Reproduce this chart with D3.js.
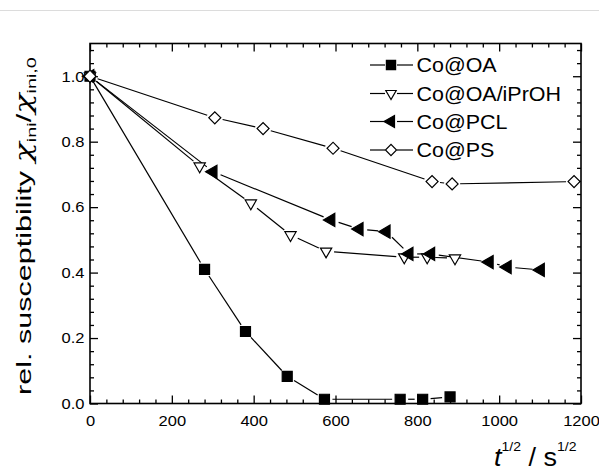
<!DOCTYPE html>
<html>
<head>
<meta charset="utf-8">
<script src="https://cdn.jsdelivr.net/npm/d3@7"></script>
<style>
  html, body { margin: 0; padding: 0; background: #fff; }
  svg { display: block; font-family: "Liberation Sans", Arial, sans-serif; }
</style>
</head>
<body>
<svg id="chart" width="599" height="471"></svg>
<script>
// Decay of the relative initial susceptibility versus square root of time
const seriesNames = ["Co@OA", "Co@OA/iPrOH", "Co@PCL", "Co@PS"];

const oaX = [0, 280, 380, 482, 573, 758, 813, 880];
const oaY = [1.0, 0.41, 0.22, 0.083, 0.013, 0.013, 0.013, 0.02];

const iproX = [0, 268, 393, 490, 577, 768, 824, 892];
const iproY = [1.0, 0.725, 0.612, 0.515, 0.465, 0.447, 0.447, 0.444];

const pclX = [0, 301, 589, 658, 724, 780, 833, 976, 1020, 1101];
const pclY = [1.0, 0.708, 0.561, 0.533, 0.525, 0.457, 0.457, 0.432, 0.417, 0.408];

const psX = [0, 305, 423, 594, 836, 885, 1183];
const psY = [1.0, 0.873, 0.840, 0.780, 0.678, 0.671, 0.678];

const xTicks = [0, 200, 400, 600, 800, 1000, 1200];
const yTicks = [0.0, 0.2, 0.4, 0.6, 0.8, 1.0];

const svg = d3.select("#chart");
const plotL = 90, plotR = 581, plotT = 43.5, plotB = 403.5;

const x = d3.scaleLinear().domain([0, 1200]).range([plotL, plotR]);
const y = d3.scaleLinear().domain([0, 1.1]).range([plotB, plotT]);

// thin rule at the very top
svg.append("line").attr("x1", 0).attr("x2", 599).attr("y1", 10.5).attr("y2", 10.5)
  .attr("stroke", "#dcdcdc").attr("stroke-width", 1);

const xMinor = d3.range(0, 1201, 40).filter(v => v % 200 !== 0);
const yMinor = d3.range(0, 28).map(i => +(i * 0.04).toFixed(2)).filter(v => Math.abs(v * 5 - Math.round(v * 5)) > 1e-6);

function styleAxis(g) {
  g.select(".domain").remove();
  g.selectAll("line").attr("stroke", "#000").attr("stroke-width", 1.3);
  g.selectAll("text").attr("fill", "#000");
}

// bottom axis with labels
const gB = svg.append("g").attr("transform", `translate(0,${plotB})`)
  .call(d3.axisBottom(x).tickValues(xTicks).tickFormat(d3.format("d")).tickSize(-8).tickPadding(12));
gB.selectAll("text").attr("font-size", 15).attr("transform", "scale(1.1,1)");
styleAxis(gB);
svg.append("g").attr("transform", `translate(0,${plotB})`)
  .call(d3.axisBottom(x).tickValues(xMinor).tickFormat("").tickSize(-4)).call(styleAxis);

// top axis, ticks only
svg.append("g").attr("transform", `translate(0,${plotT})`)
  .call(d3.axisTop(x).tickValues(xTicks).tickFormat("").tickSize(-8)).call(styleAxis);
svg.append("g").attr("transform", `translate(0,${plotT})`)
  .call(d3.axisTop(x).tickValues(xMinor).tickFormat("").tickSize(-4)).call(styleAxis);

// left axis with labels
const gL = svg.append("g").attr("transform", `translate(${plotL},0)`)
  .call(d3.axisLeft(y).tickValues(yTicks).tickFormat(d3.format(".1f")).tickSize(-8).tickPadding(5));
gL.selectAll("text").attr("font-size", 15).attr("transform", "scale(1.1,1)");
styleAxis(gL);
svg.append("g").attr("transform", `translate(${plotL},0)`)
  .call(d3.axisLeft(y).tickValues(yMinor).tickFormat("").tickSize(-4)).call(styleAxis);

// right axis, ticks only
svg.append("g").attr("transform", `translate(${plotR},0)`)
  .call(d3.axisRight(y).tickValues(yTicks).tickFormat("").tickSize(-8)).call(styleAxis);
svg.append("g").attr("transform", `translate(${plotR},0)`)
  .call(d3.axisRight(y).tickValues(yMinor).tickFormat("").tickSize(-4)).call(styleAxis);

// frame
svg.append("rect").attr("x", plotL).attr("y", plotT)
  .attr("width", plotR - plotL).attr("height", plotB - plotT)
  .attr("fill", "none").attr("stroke", "#000").attr("stroke-width", 1.6);

// marker shapes
const markers = [
  { type: d3.symbolSquare, size: 100, rot: 0, fill: "#000" },
  { type: d3.symbolTriangle, size: 55, rot: 180, fill: "#fff" },
  { type: d3.symbolTriangle, size: 75, rot: -90, fill: "#000" },
  { type: d3.symbolSquare, size: 72, rot: 45, fill: "#fff" }
];

const series = [
  { xs: oaX, ys: oaY },
  { xs: iproX, ys: iproY },
  { xs: pclX, ys: pclY },
  { xs: psX, ys: psY }
];

const gap = 8;
const lineLayer = svg.append("g");
const markLayer = svg.append("g");

series.forEach((s, i) => {
  const pts = s.xs.map((v, j) => [x(v), y(s.ys[j])]);
  // connecting segments, broken just short of each marker
  for (let j = 0; j < pts.length - 1; j++) {
    const [x0, y0] = pts[j], [x1, y1] = pts[j + 1];
    const len = Math.hypot(x1 - x0, y1 - y0);
    if (len <= 2 * gap + 1) continue;
    const ux = (x1 - x0) / len, uy = (y1 - y0) / len;
    lineLayer.append("line")
      .attr("x1", x0 + ux * gap).attr("y1", y0 + uy * gap)
      .attr("x2", x1 - ux * gap).attr("y2", y1 - uy * gap)
      .attr("stroke", "#000").attr("stroke-width", 1.2);
  }
  const m = markers[i];
  markLayer.selectAll(null).data(pts).join("path")
    .attr("d", d3.symbol().type(m.type).size(m.size))
    .attr("transform", d => `translate(${d[0]},${d[1]}) rotate(${m.rot})`)
    .attr("fill", m.fill).attr("stroke", "#000").attr("stroke-width", 1.2);
});

// legend
const legend = svg.append("g");
const legY = [65, 93.5, 121.5, 150];
seriesNames.forEach((name, i) => {
  const cy = legY[i];
  legend.append("line").attr("x1", 370).attr("x2", 385).attr("y1", cy).attr("y2", cy)
    .attr("stroke", "#000").attr("stroke-width", 1.2);
  legend.append("line").attr("x1", 397).attr("x2", 413).attr("y1", cy).attr("y2", cy)
    .attr("stroke", "#000").attr("stroke-width", 1.2);
  const m = markers[i];
  legend.append("path")
    .attr("d", d3.symbol().type(m.type).size(m.size * 0.85))
    .attr("transform", `translate(391,${cy}) rotate(${m.rot})`)
    .attr("fill", m.fill).attr("stroke", "#000").attr("stroke-width", 1.2);
  legend.append("text")
    .attr("transform", `translate(416.5,${cy + 7}) scale(1.1,1)`)
    .attr("font-size", 19.5).attr("fill", "#000").text(name);
});

// y axis title, stretched along its run to span the plot height
const ytG = svg.append("g");
const yt = ytG.append("text")
  .attr("text-anchor", "middle").attr("font-size", 20).attr("fill", "#000");
yt.append("tspan").text("rel. susceptibility ");
yt.append("tspan").attr("font-style", "italic").attr("font-family", "DejaVu Serif").attr("font-size", 22).text("χ");
yt.append("tspan").attr("font-size", 13).attr("dy", 5).text("ini");
yt.append("tspan").attr("dy", -5).text("/");
yt.append("tspan").attr("font-style", "italic").attr("font-family", "DejaVu Serif").attr("font-size", 22).text("χ");
yt.append("tspan").attr("font-size", 13).attr("dy", 5).text("ini,0");
const ytBox = yt.node().getBBox();
const ytScale = 338 / ytBox.width;
const ytShift = -(ytBox.x + ytBox.width / 2);
yt.attr("x", ytShift);
ytG.attr("transform", `translate(31,226) rotate(-90) scale(${ytScale},1)`);

// x axis title
const xt = svg.append("text")
  .attr("transform", "translate(494,465.5) scale(1.08,1)")
  .attr("font-size", 25).attr("fill", "#000");
xt.append("tspan").attr("font-style", "italic").text("t");
xt.append("tspan").attr("font-size", 13).attr("dy", -15).text("1/2");
xt.append("tspan").attr("dy", 15).text(" / s");
xt.append("tspan").attr("font-size", 13).attr("dy", -15).text("1/2");
</script>
</body>
</html>
